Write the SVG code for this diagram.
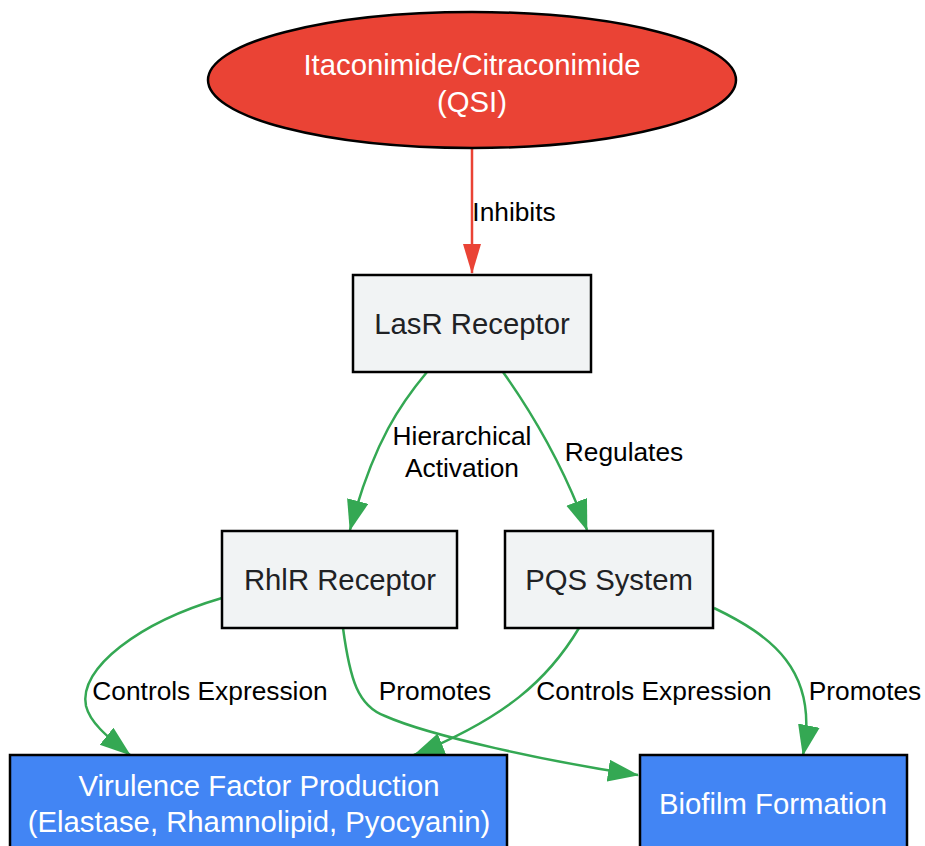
<svg xmlns="http://www.w3.org/2000/svg" width="925" height="846" viewBox="0 0 925 846">
<defs>
<style>
.node-gray rect{fill:#F1F3F4;stroke:#000;stroke-width:2.5}
.node-blue rect{fill:#4285F4;stroke:#000;stroke-width:2.5}
.nt{font-family:"Liberation Sans",Arial,sans-serif;font-size:29.3px;text-anchor:middle}
.dark{fill:#202124}
.light{fill:#FFFFFF}
.el{font-family:"Liberation Sans",Arial,sans-serif;font-size:26.3px;text-anchor:middle;fill:#000}
.g{fill:none;stroke:#34A853;stroke-width:2.5}
.r{fill:none;stroke:#EA4335;stroke-width:2.5}
</style>
<marker id="ag" markerUnits="userSpaceOnUse" markerWidth="32" markerHeight="24" refX="30" refY="11" orient="auto">
<path d="M0,0 L31,11 L0,22 z" fill="#34A853"/>
</marker>
<marker id="ar" markerUnits="userSpaceOnUse" markerWidth="32" markerHeight="22" refX="29" refY="9" orient="auto">
<path d="M0,0 L30,9 L0,18 z" fill="#EA4335"/>
</marker>
</defs>
<rect width="925" height="846" fill="#FFFFFF"/>
<g id="connectors">
<path class="r" d="M472,148 L472,273" marker-end="url(#ar)"/>
<path class="g" d="M427,372 C402,402 374,440 350,530" marker-end="url(#ag)"/>
<path class="g" d="M503,372 C530,410 562,462 587,530" marker-end="url(#ag)"/>
<path class="g" d="M222,598 C140,622 78,668 86,706 C90,722 105,735 130,755" marker-end="url(#ag)"/>
<path class="g" d="M343,628 C350,680 358,706 385,716 C430,736 550,762 638,775" marker-end="url(#ag)"/>
<path class="g" d="M579,628 C548,680 505,718 414,755" marker-end="url(#ag)"/>
<path class="g" d="M714,608 C770,635 820,670 803,755" marker-end="url(#ag)"/>
<text class="el" x="514" y="221">Inhibits</text>
<text class="el" x="462" y="445">Hierarchical</text>
<text class="el" x="462" y="477">Activation</text>
<text class="el" x="624" y="461">Regulates</text>
<text class="el" x="210" y="700">Controls Expression</text>
<text class="el" x="435" y="700">Promotes</text>
<text class="el" x="654" y="700">Controls Expression</text>
<text class="el" x="865" y="700">Promotes</text>
</g>
<g id="qsi">
<ellipse cx="472" cy="80" rx="264" ry="68" fill="#EA4335" stroke="#000" stroke-width="2.5"/>
<text class="nt light" x="472" y="75">Itaconimide/Citraconimide</text>
<text class="nt light" x="472" y="112">(QSI)</text>
</g>
<g id="lasr" class="node-gray">
<rect x="353" y="275" width="238" height="97"/>
<text class="nt dark" x="472" y="334">LasR Receptor</text>
</g>
<g id="rhlr" class="node-gray">
<rect x="222" y="531" width="235" height="97"/>
<text class="nt dark" x="340" y="590">RhlR Receptor</text>
</g>
<g id="pqs" class="node-gray">
<rect x="505" y="531" width="208" height="97"/>
<text class="nt dark" x="609" y="590">PQS System</text>
</g>
<g id="virulence" class="node-blue">
<rect x="10" y="755" width="497" height="100"/>
<text class="nt light" x="259" y="796">Virulence Factor Production</text>
<text class="nt light" x="259" y="832">(Elastase, Rhamnolipid, Pyocyanin)</text>
</g>
<g id="biofilm" class="node-blue">
<rect x="640" y="755" width="267" height="100"/>
<text class="nt light" x="773" y="814">Biofilm Formation</text>
</g>
</svg>
